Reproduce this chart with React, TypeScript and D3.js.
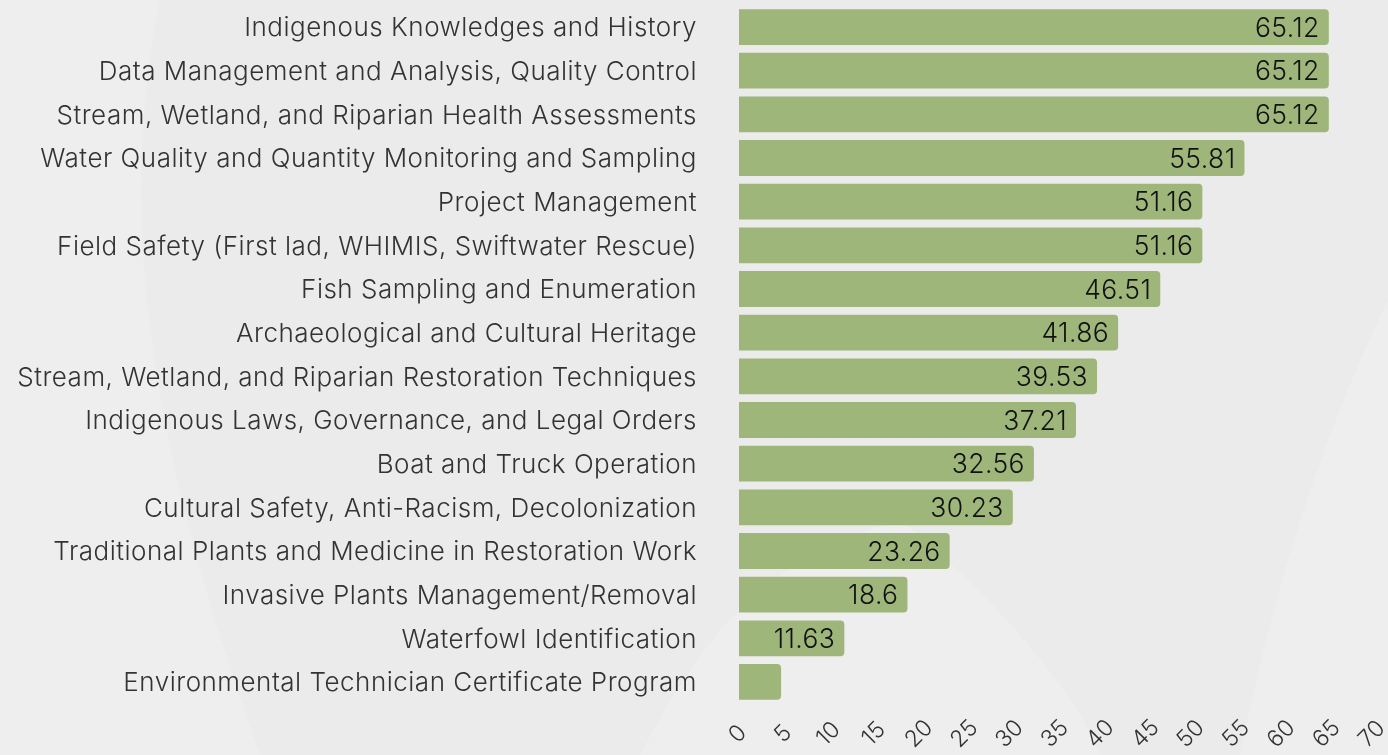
import React, { useEffect, useRef } from 'react'
import * as d3 from 'd3'

const categories = [
  'Indigenous Knowledges and History',
  'Data Management and Analysis, Quality Control',
  'Stream, Wetland, and Riparian Health Assessments',
  'Water Quality and Quantity Monitoring and Sampling',
  'Project Management',
  'Field Safety (First lad, WHIMIS, Swiftwater Rescue)',
  'Fish Sampling and Enumeration',
  'Archaeological and Cultural Heritage',
  'Stream, Wetland, and Riparian Restoration Techniques',
  'Indigenous Laws, Governance, and Legal Orders',
  'Boat and Truck Operation',
  'Cultural Safety, Anti-Racism, Decolonization',
  'Traditional Plants and Medicine in Restoration Work',
  'Invasive Plants Management/Removal',
  'Waterfowl Identification',
  'Environmental Technician Certificate Program',
]
const values = [65.12, 65.12, 65.12, 55.81, 51.16, 51.16, 46.51, 41.86, 39.53, 37.21, 32.56, 30.23, 23.26, 18.6, 11.63, 4.65]
const xTicks = [0, 5, 10, 15, 20, 25, 30, 35, 40, 45, 50, 55, 60, 65, 70]

const W = 1388
const H = 755
const FONT = 'Inter, "Noto Sans", sans-serif'

const App = () => {
  const svgRef = useRef<SVGSVGElement>(null)

  useEffect(() => {
    document.body.style.margin = '0'
    const svg = d3.select(svgRef.current)
    svg.selectAll('*').remove()

    // background
    svg.append('rect').attr('width', W).attr('height', H).attr('fill', '#ebebeb')
    const deco = svg.append('g').attr('fill', '#ffffff').attr('opacity', 0.3)
    deco.append('path').attr('d', 'M0,0 L160,0 C120,200 140,420 260,755 L0,755 Z').attr('opacity', 0.5)
    deco.append('path').attr('d', 'M640,755 C700,640 760,560 900,520 C1000,600 1080,700 1100,755 Z').attr('opacity', 0.6)
    deco.append('path').attr('d', 'M1240,755 C1280,560 1330,420 1388,300 L1388,755 Z').attr('opacity', 0.6)

    const x = d3.scaleLinear().domain([0, 70]).range([739, 1373])
    const y = d3.scaleBand().domain(categories).range([5.2, 703.8]).paddingInner(0.18).paddingOuter(0.09)

    const r = 4
    const barPath = (v: number, c: string) => {
      const x0 = x(0)
      const x1 = x(v)
      const y0 = y(c) as number
      const h = y.bandwidth()
      return `M${x0},${y0} H${x1 - r} Q${x1},${y0} ${x1},${y0 + r} V${y0 + h - r} Q${x1},${y0 + h} ${x1 - r},${y0 + h} H${x0} Z`
    }

    svg.append('g')
      .selectAll('path')
      .data(values)
      .join('path')
      .attr('d', (v, i) => barPath(v, categories[i]))
      .attr('fill', '#9eb67a')

    // value labels inside bars
    svg.append('g')
      .selectAll('text')
      .data(values)
      .join('text')
      .filter((v) => x(v) - x(0) > 60)
      .attr('x', (v) => x(v) - 9)
      .attr('y', (v, i) => (y(categories[i]) as number) + y.bandwidth() / 2)
      .attr('dy', '0.36em')
      .attr('text-anchor', 'end')
      .attr('font-family', FONT)
      .attr('font-weight', 300)
      .attr('font-size', 26.5)
      .attr('letter-spacing', 0.4)
      .attr('fill', '#111')
      .text((v) => String(v))

    // category labels
    svg.append('g')
      .selectAll('text')
      .data(categories)
      .join('text')
      .attr('x', 697)
      .attr('y', (c) => (y(c) as number) + y.bandwidth() / 2)
      .attr('dy', '0.36em')
      .attr('text-anchor', 'end')
      .attr('font-family', FONT)
      .attr('font-weight', 300)
      .attr('font-size', 26)
      .attr('letter-spacing', 0.5)
      .attr('fill', '#333')
      .text((c) => c)

    // x axis tick labels, rotated
    svg.append('g')
      .selectAll('text')
      .data(xTicks)
      .join('text')
      .attr('transform', (t) => `translate(${x(t) - 2},${733}) rotate(-45)`)
      .attr('dy', '0.36em')
      .attr('text-anchor', 'middle')
      .attr('font-family', FONT)
      .attr('font-weight', 300)
      .attr('font-size', 23)
      .attr('fill', '#333')
      .text((t) => String(t))
  }, [])

  return <svg ref={svgRef} width={W} height={H} style={{ display: 'block' }} />
}

export default App
